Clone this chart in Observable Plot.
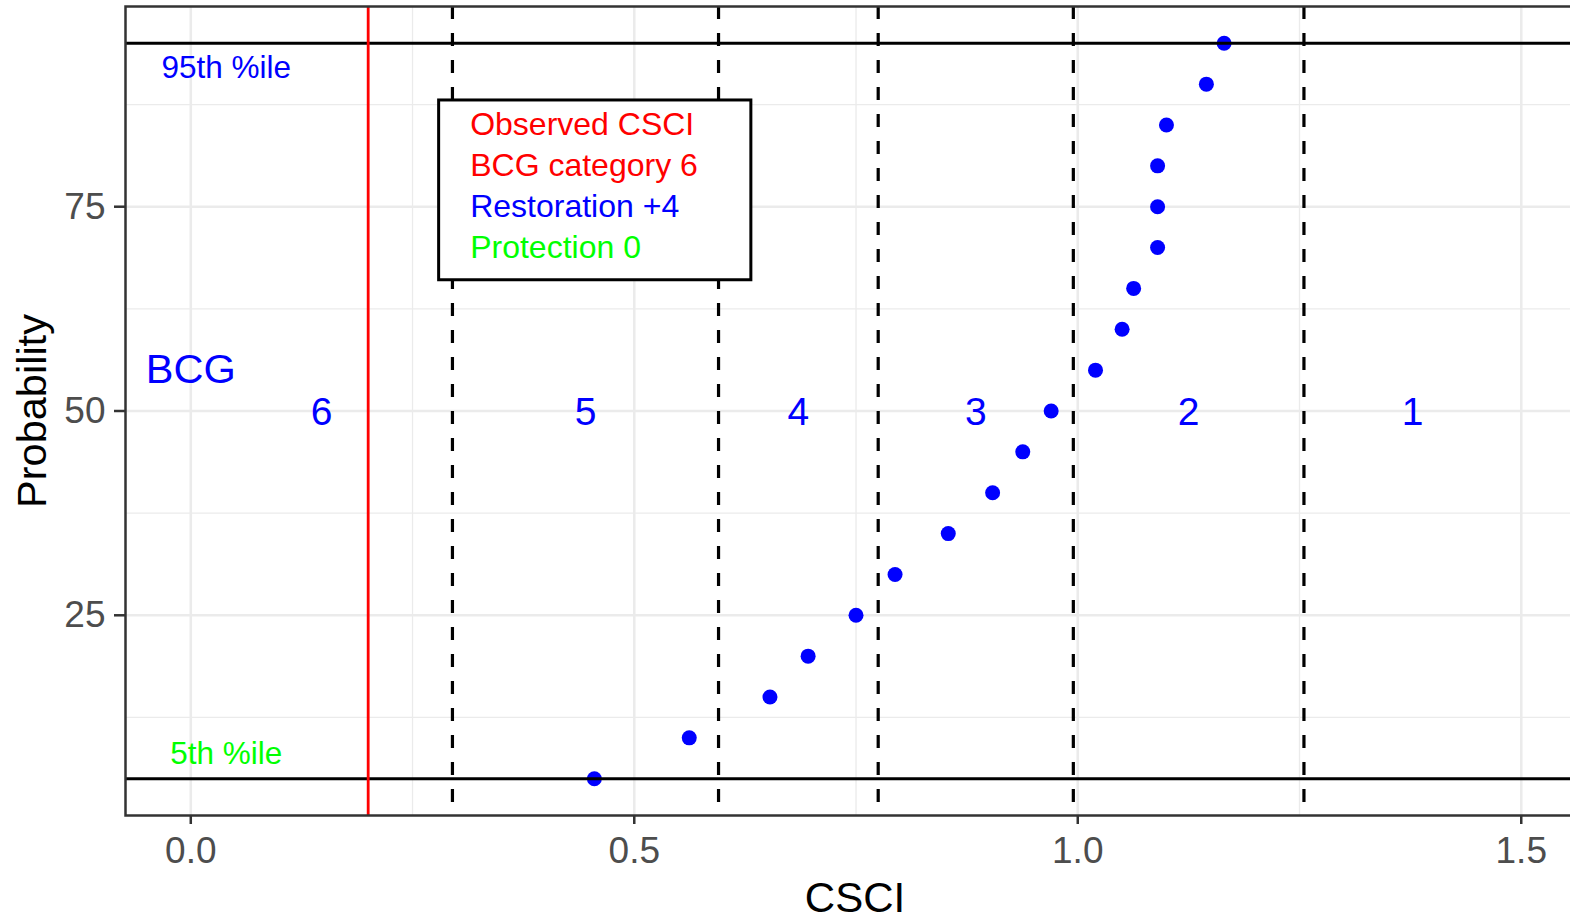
<!DOCTYPE html>
<html><head><meta charset="utf-8">
<script src="https://cdn.jsdelivr.net/npm/d3@7"></script>
<script src="https://cdn.jsdelivr.net/npm/@observablehq/plot@0.6"></script>
<style>html,body{margin:0;padding:0;background:#fff;overflow:hidden;} svg{max-width:none !important;}</style>
</head><body><div id="chart"></div>
<script>
// Data
const probability = [5, 10, 15, 20, 25, 30, 35, 40, 45, 50, 55, 60, 65, 70, 75, 80, 85, 90, 95];
const csci = [0.455, 0.562, 0.653, 0.696, 0.750, 0.794, 0.854, 0.904, 0.938, 0.970, 1.020, 1.050, 1.063, 1.090, 1.090, 1.090, 1.100, 1.145, 1.165];
const percentileLines = [5, 95];
const observedCSCI = [0.2];
const bcgThresholds = [0.295, 0.595, 0.775, 0.995, 1.255];
const bcgCategories = ["6", "5", "4", "3", "2", "1"];
const bcgRange = [0, 1.5];
const xTicks = [0, 0.5, 1.0, 1.5];
const xMinor = [0.25, 0.75, 1.25];
const yTicks = [25, 50, 75];
const yMinor = [12.5, 37.5, 62.5, 87.5];
const legendLines = ["Observed CSCI", "BCG category 6", "Restoration +4", "Protection 0"];
const legendColors = ["#FF0000", "#FF0000", "#0000FF", "#00FF00"];
const legendY = [85, 80, 75, 70];

const points = csci.map((c, i) => ({csci: c, probability: probability[i]}));
const bounds = [bcgRange[0], ...bcgThresholds, bcgRange[1]];
const catLabels = bcgCategories.map((c, i) => ({label: c, x: (bounds[i] + bounds[i + 1]) / 2, y: 50}));
const legendRows = legendLines.map((t, i) => ({label: t, color: legendColors[i], y: legendY[i]}));
const legendBox = [{x1: 0.28, x2: 0.632, y1: 66, y2: 88}];
const pctLabels = [
  {label: "95th %ile", x: 0.04, y: 92, color: "#0000FF"},
  {label: "5th %ile", x: 0.04, y: 8, color: "#00FF00"}
];

const chart = Plot.plot({
  width: 1594, height: 919,
  marginLeft: 125, marginRight: 10, marginTop: 6, marginBottom: 104,
  x: {domain: [-0.0736, 1.5713]},
  y: {domain: [0.5, 99.5]},
  color: {type: "identity"},
  style: {fontFamily: "'Liberation Sans', Arial, sans-serif", background: "white", maxWidth: "none"},
  marks: [
    Plot.ruleX(xMinor, {stroke: "#EBEBEB", strokeWidth: 1.3}),
    Plot.ruleY(yMinor, {stroke: "#EBEBEB", strokeWidth: 1.3}),
    Plot.ruleX(xTicks, {stroke: "#EBEBEB", strokeWidth: 2.6}),
    Plot.ruleY(yTicks, {stroke: "#EBEBEB", strokeWidth: 2.6}),
    Plot.dot(points, {x: "csci", y: "probability", r: 7.5, fill: "#0000FF", stroke: null}),
    Plot.ruleY(percentileLines, {stroke: "black", strokeWidth: 3.2}),
    Plot.ruleX(bcgThresholds, {stroke: "black", strokeWidth: 3.2, strokeDasharray: "13,14"}),
    Plot.ruleX(observedCSCI, {stroke: "#FF0000", strokeWidth: 2.8}),
    Plot.text(pctLabels, {x: "x", y: "y", text: "label", fill: "color", fontSize: 31.5}),
    Plot.text(["BCG"], {x: 0, y: 55, fill: "#0000FF", fontSize: 41.5}),
    Plot.text(catLabels, {x: "x", y: "y", text: "label", fill: "#0000FF", fontSize: 39, dy: 2}),
    Plot.rect(legendBox, {x1: "x1", x2: "x2", y1: "y1", y2: "y2", fill: "white", stroke: "black", strokeWidth: 3}),
    Plot.text(legendRows, {x: 0.315, y: "y", text: "label", fill: "color", textAnchor: "start", fontSize: 32}),
    Plot.frame({stroke: "#333333", strokeWidth: 2.5}),
    Plot.axisX(xTicks, {tickSize: 9, tickPadding: 12, fontSize: 37, fill: "#4D4D4D", stroke: "#333333", strokeWidth: 2.5, tickFormat: d3.format(".1f"), label: null}),
    Plot.axisY(yTicks, {tickSize: 11, tickPadding: 9, fontSize: 37, fill: "#4D4D4D", stroke: "#333333", strokeWidth: 2.5, label: null}),
    Plot.text(["CSCI"], {frameAnchor: "bottom", dy: 96, fontSize: 42, fill: "black"}),
    Plot.text(["Probability"], {x: -0.1778, y: 50, rotate: -90, fontSize: 41.5, fill: "black", clip: false})
  ]
});
document.getElementById("chart").appendChild(chart);
</script>
</body></html>
